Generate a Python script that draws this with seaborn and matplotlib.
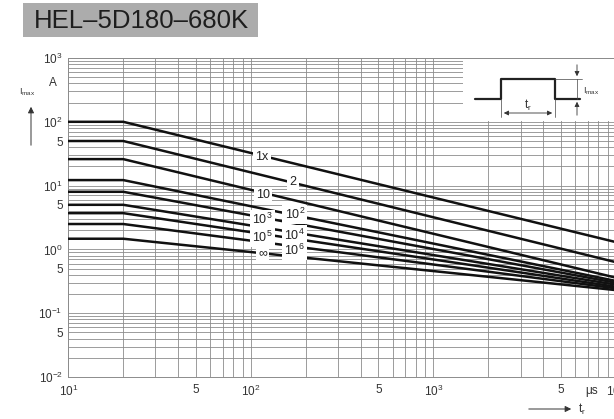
import numpy as np
import pandas as pd
import matplotlib
matplotlib.use("Agg")
import matplotlib.pyplot as plt
import seaborn as sns
from matplotlib.patches import Rectangle

# Curve data (I_max vs pulse duration t_r)
curve_names = ['1x', '2', '10', '10^2', '10^3', '10^4', '10^5', '10^6', 'inf']
t_points = [10, 20, 10000]               # flat to 20 us, then straight on log-log
i_flat = [100, 50, 26, 12.2, 8.0, 5.0, 3.7, 2.5, 1.47]
i_end = [1.3, 0.63, 0.36, 0.32, 0.30, 0.28, 0.26, 0.245, 0.23]

# Label text next to each curve
curve_text = ['1x', '2', '10', r'$10^2$', r'$10^3$', r'$10^4$', r'$10^5$', r'$10^6$', '\u221e']

x_ticks = [10, 50, 100, 500, 1000, 5000, 10000]
x_ticklabels = [r'$10^1$', '5', r'$10^2$', '5', r'$10^3$', '5', r'$10^4$']
y_ticks = [0.01, 0.05, 0.1, 0.5, 1, 5, 10, 50, 100, 1000]
y_ticklabels = [r'$10^{-2}$', '5', r'$10^{-1}$', '5', r'$10^0$', '5', r'$10^1$', '5', r'$10^2$', r'$10^3$']

# Long-format table for seaborn
rows = []
for name, f, e in zip(curve_names, i_flat, i_end):
    for t, i in zip(t_points, [f, f, e]):
        rows.append({'t': t, 'I': i, 'curve': name})
df = pd.DataFrame(rows)

sns.set_style("white")
plt.rcParams['font.family'] = ['Liberation Sans', 'DejaVu Sans']
plt.rcParams['mathtext.fontset'] = 'custom'
plt.rcParams['mathtext.rm'] = 'Liberation Sans'
plt.rcParams['mathtext.it'] = 'Liberation Sans:italic'

W, H = 614, 419
fig = plt.figure(figsize=(W / 100, H / 100), dpi=100)
ax = fig.add_axes([68.3 / W, 1 - 377 / H, (616 - 68.3) / W, (377 - 58) / H])

sns.lineplot(data=df, x='t', y='I', hue='curve', palette=['#111111'] * len(curve_names),
             legend=False, estimator=None, sort=False, linewidth=1.8, ax=ax, zorder=3)

ax.set_xscale('log')
ax.set_yscale('log')
ax.set_xlim(10, 10000)
ax.set_ylim(0.01, 1000)

# Grid on every 1..9 per decade
ax.grid(True, which='both', color='#8c8c8c', linewidth=0.6)
for s in ax.spines.values():
    s.set_color('#8c8c8c')
    s.set_linewidth(0.7)
ax.spines['right'].set_visible(False)

ax.set_xticks(x_ticks)
ax.set_xticklabels(x_ticklabels)
ax.set_yticks(y_ticks)
ax.set_yticklabels(y_ticklabels)
ax.minorticks_on()
ax.tick_params(which='both', length=0)
ax.tick_params(axis='x', pad=5, labelsize=8.5, colors='#333333')
ax.tick_params(axis='y', pad=4, labelsize=8.5, colors='#333333')
ax.xaxis.set_minor_formatter(plt.NullFormatter())
ax.yaxis.set_minor_formatter(plt.NullFormatter())
ax.set_xlabel('')
ax.set_ylabel('')

# Curve labels (data coordinates)
label_pos = [(115, 28), (170, 11.4), (116, 7.1), (174, 3.5), (116, 2.94),
             (174, 1.68), (116, 1.54), (174, 0.98), (116, 0.88)]
for txt, (lx, ly) in zip(curve_text, label_pos):
    ax.text(lx, ly, txt, fontsize=9, ha='center', va='center', color='#222222', zorder=5,
            bbox=dict(facecolor='white', edgecolor='none', pad=1.5))

# Overlay in pixel coordinates for decorations
ov = fig.add_axes([0, 0, 1, 1], zorder=10)
ov.set_xlim(0, W)
ov.set_ylim(H, 0)
ov.axis('off')
ov.patch.set_alpha(0)

# Title box
ov.add_patch(Rectangle((23, 3), 235, 34, facecolor='#acacac', edgecolor='none'))
ov.text(141, 20.5, 'HEL\u20135D180\u2013680K', fontsize=18.5, ha='center', va='center', color='#1e1e1e')

# Axis annotations
ov.text(53, 83, 'A', fontsize=8.5, ha='center', va='center', color='#333333')
ov.text(27, 92, r'$\mathregular{I_{max}}$', fontsize=6.5, ha='center', va='center', color='#333333')
ov.annotate('', xy=(31, 104), xytext=(31, 148),
            arrowprops=dict(arrowstyle='-|>', color='#333333', lw=0.7, mutation_scale=9))
ov.text(592, 391, '\u03bcs', fontsize=8.5, ha='center', va='center', color='#333333')
ov.annotate('', xy=(574, 409), xytext=(526, 409),
            arrowprops=dict(arrowstyle='-|>', color='#333333', lw=0.7, mutation_scale=9))
ov.text(582, 409, r'$\mathregular{t_r}$', fontsize=8.5, ha='center', va='center', color='#333333')

# Pulse inset
ov.add_patch(Rectangle((463, 59), 160, 62, facecolor='white', edgecolor='none'))
ov.plot([475, 501, 501, 555, 555, 580], [99, 99, 79, 79, 99, 99], color='#222222', lw=1.6)
ov.plot([501, 501], [99, 117], color='#444444', lw=0.5)
ov.plot([555, 555], [99, 117], color='#444444', lw=0.5)
ov.annotate('', xy=(501, 113), xytext=(555, 113),
            arrowprops=dict(arrowstyle='<|-|>', color='#333333', lw=0.6, mutation_scale=7))
ov.text(528, 105, r'$\mathregular{t_r}$', fontsize=8.5, ha='center', va='center', color='#333333')
ov.plot([555, 582], [79, 79], color='#444444', lw=0.5)
ov.annotate('', xy=(577, 79), xytext=(577, 62),
            arrowprops=dict(arrowstyle='-|>', color='#333333', lw=0.6, mutation_scale=7))
ov.annotate('', xy=(577, 99), xytext=(577, 118),
            arrowprops=dict(arrowstyle='-|>', color='#333333', lw=0.6, mutation_scale=7))
ov.plot([577, 577], [79, 99], color='#444444', lw=0.5)
ov.text(583, 91, r'$\mathregular{I_{max}}$', fontsize=6.5, ha='left', va='center', color='#333333')

fig.savefig('out.png', dpi=100)
